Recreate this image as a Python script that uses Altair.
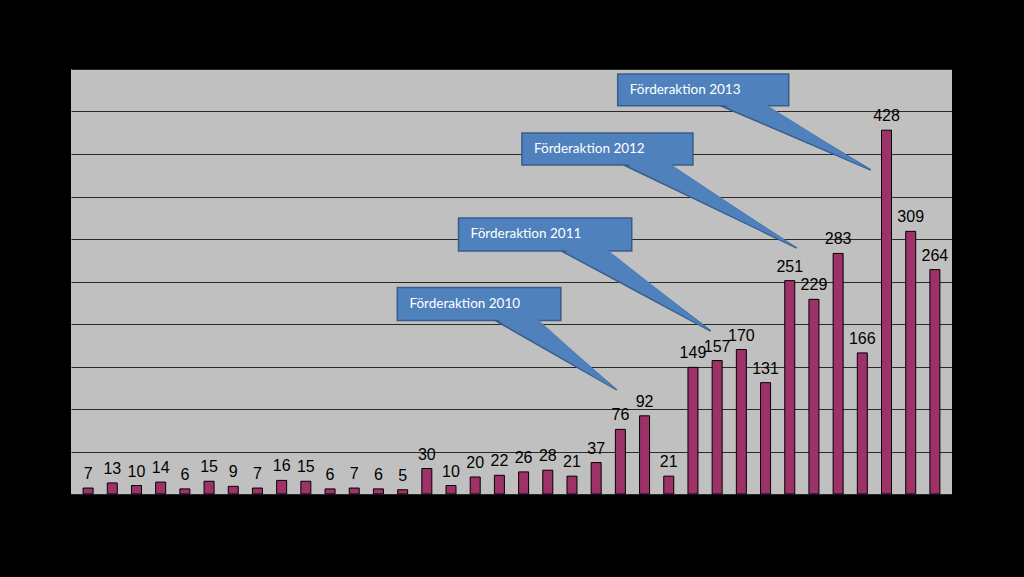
import altair as alt
import pandas as pd

# ---- data ----
values = [7, 13, 10, 14, 6, 15, 9, 7, 16, 15, 6, 7, 6, 5, 30, 10, 20, 22,
          26, 28, 21, 37, 76, 92, 21, 149, 157, 170, 131, 251, 229, 283,
          166, 428, 309, 264]
indices = list(range(len(values)))

callout_names = ["Förderaktion 2010", "Förderaktion 2011",
                 "Förderaktion 2012", "Förderaktion 2013"]
# box corners in data units (x = bar index, y = value)
box_x1 = [12.78, 15.31, 17.93, 21.89]
box_x2 = [19.54, 22.47, 25.00, 28.96]
box_ytop = [242.9, 324.7, 424.7, 494.1]
box_ybot = [204.1, 285.9, 387.1, 456.8]
# tail base (on box bottom) and tip
tail_xa = [16.83, 19.56, 22.14, 26.14]
tail_xb = [18.53, 21.40, 23.98, 27.94]
tip_x = [21.85, 25.73, 29.29, 32.35]
tip_y = [122.4, 191.8, 289.4, 381.2]

BAR_COLOR = "#9c3268"
PLOT_BG = "#c0c0c0"
FILL = "#4f81bd"
EDGE = "#385d8a"
LABEL_FONT = "Liberation Sans"
CALLOUT_FONT = "Lato"

bars_df = pd.DataFrame({"idx": indices, "value": values})

boxes_df = pd.DataFrame({
    "name": callout_names, "x1": box_x1, "x2": box_x2,
    "ytop": box_ytop, "ybot": box_ybot,
})
boxes_df["tx"] = boxes_df["x1"] + 0.5
boxes_df["ty"] = (boxes_df["ytop"] + boxes_df["ybot"]) / 2


def tail_rows(lift):
    rows = []
    for n, xa, xb, xc, yb, yc in zip(callout_names, tail_xa, tail_xb,
                                     tip_x, box_ybot, tip_y):
        yb = yb + lift
        # point on edge A->C above B
        y_mid = yb + (yc - yb) * (xb - xa) / (xc - xa)
        rows.append({"name": n, "x": xa, "y": yb, "y2": yb})
        rows.append({"name": n, "x": xb, "y": y_mid, "y2": yb})
        rows.append({"name": n, "x": xc, "y": yc, "y2": yc})
    return pd.DataFrame(rows)


tail_df = tail_rows(0.0)
tail_cover_df = tail_rows(3.0)

xscale = alt.Scale(domain=[-0.5, 35.5], nice=False, zero=False)
yscale = alt.Scale(domain=[0, 500], nice=False)

bars = alt.Chart(bars_df).mark_bar(
    size=10, color=BAR_COLOR, stroke="#000000", strokeWidth=1
).encode(
    x=alt.X("idx:Q", scale=xscale, axis=None),
    y=alt.Y("value:Q", scale=yscale,
            axis=alt.Axis(values=list(range(0, 501, 50)), labels=False,
                          ticks=False, domain=False, grid=True,
                          gridColor="#2a2a2a", gridWidth=1, title=None)),
)

labels = alt.Chart(bars_df).mark_text(
    font=LABEL_FONT, fontSize=16, color="#000000", baseline="alphabetic",
    align="center", dy=-9
).encode(
    x=alt.X("idx:Q", scale=xscale),
    y=alt.Y("value:Q", scale=yscale),
    text=alt.Text("value:Q"),
)

tails = alt.Chart(tail_df).mark_area(
    color=FILL, stroke=EDGE, strokeWidth=1.5, interpolate="linear"
).encode(
    x=alt.X("x:Q", scale=xscale),
    y=alt.Y("y:Q", scale=yscale, stack=None),
    y2="y2:Q",
    detail="name:N",
)

boxes = alt.Chart(boxes_df).mark_rect(
    color=FILL, stroke=EDGE, strokeWidth=1.5
).encode(
    x=alt.X("x1:Q", scale=xscale), x2="x2:Q",
    y=alt.Y("ytop:Q", scale=yscale), y2="ybot:Q",
)

tails_cover = alt.Chart(tail_cover_df).mark_area(
    color=FILL, interpolate="linear"
).encode(
    x=alt.X("x:Q", scale=xscale),
    y=alt.Y("y:Q", scale=yscale, stack=None),
    y2="y2:Q",
    detail="name:N",
)

box_text = alt.Chart(boxes_df).mark_text(
    font=CALLOUT_FONT, fontSize=13.5, color="#ffffff", align="left",
    baseline="middle"
).encode(
    x=alt.X("tx:Q", scale=xscale),
    y=alt.Y("ty:Q", scale=yscale),
    text="name:N",
)

chart = alt.layer(
    bars, labels, tails, boxes, tails_cover, box_text
).properties(
    width=881, height=425,
    background="#000000",
    padding={"left": 71, "top": 69, "right": 72, "bottom": 83},
    autosize=alt.AutoSizeParams(type="none"),
).configure_view(
    fill=PLOT_BG, stroke=None
)

chart.save("out.html", embed_options={"renderer": "svg", "actions": False})
